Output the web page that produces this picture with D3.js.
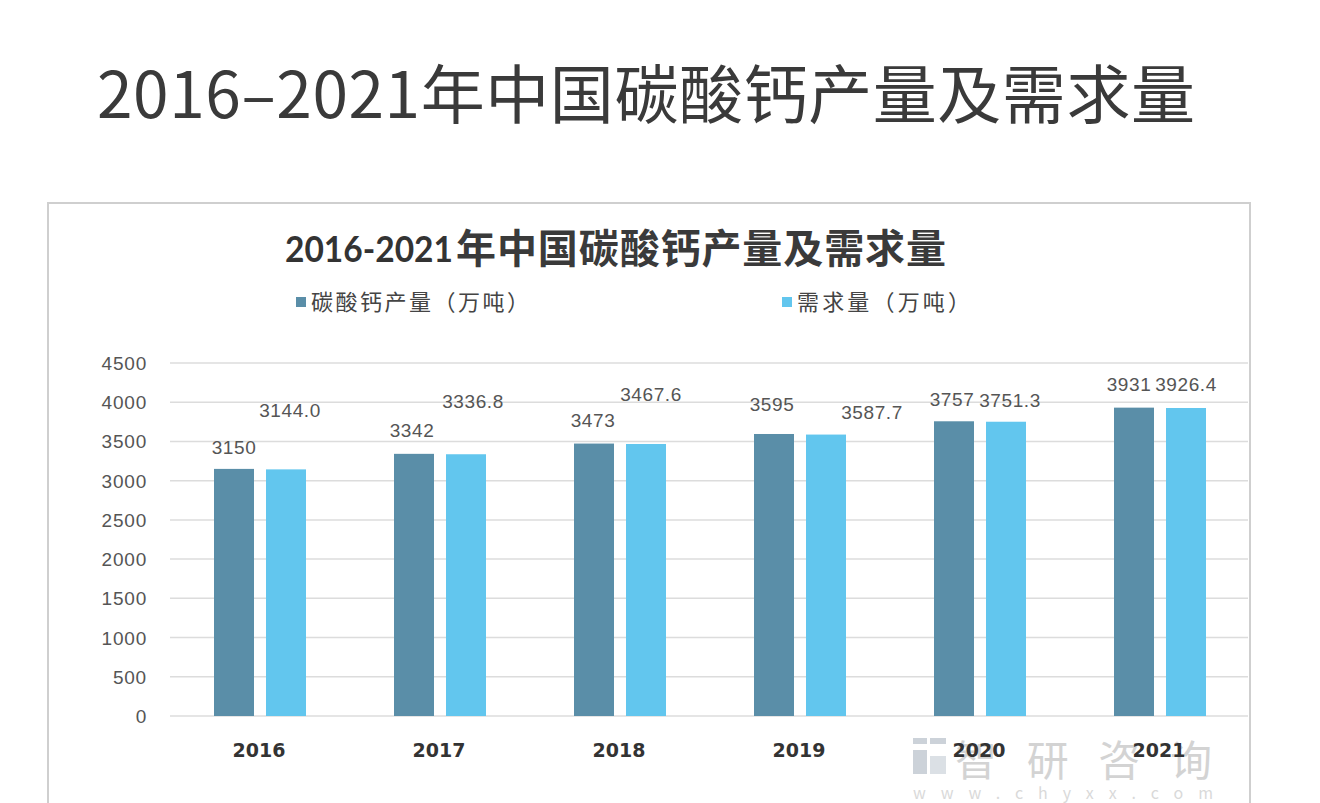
<!DOCTYPE html>
<html><head><meta charset="utf-8">
<script src="https://cdn.jsdelivr.net/npm/d3@7/dist/d3.min.js"></script>
<style>body{margin:0;background:#fff;}svg{display:block;}</style>
</head><body>
<svg id="c" width="1320" height="803"></svg>
<script>
const years = ["2016","2017","2018","2019","2020","2021"];
const production = [3150,3342,3473,3595,3757,3931];
const demand = [3144.0,3336.8,3467.6,3587.7,3751.3,3926.4];
const yTicks = [0,500,1000,1500,2000,2500,3000,3500,4000,4500];
const seriesNames = ["碳酸钙产量（万吨）","需求量（万吨）"];
const pageTitle = "2016–2021年中国碳酸钙产量及需求量";
const chartTitleYears = "2016-2021";
const chartTitleText = "年中国碳酸钙产量及需求量";
// label offsets (layout only) relative to bar top centre
const prodLabelOff = [[0,-22],[-2,-24],[-1,-24],[-2,-30],[-2,-22],[-5,-24]];
const demLabelOff = [[4,-59],[7,-53],[5,-50],[46,-23],[4,-22],[0,-24]];

const colors = ["#5a8ea8","#62c6ee"];
const svg = d3.select("#c");
const font = "'Noto Sans CJK SC','Noto Sans',sans-serif";

// page title
svg.append("text").attr("x",97).attr("y",118).attr("font-family",font)
  .attr("font-size",64).attr("fill","#3a3a3a").attr("textLength",1098).attr("lengthAdjust","spacing")
  .text(pageTitle);

// chart frame
svg.append("path").attr("d","M48,820 V203 H1250 V820").attr("fill","none").attr("stroke","#cfcfcf").attr("stroke-width",2);

// chart title
svg.append("text").attr("x",285).attr("y",262).attr("font-family","Lato,'Liberation Sans',sans-serif").attr("font-weight","bold")
  .attr("font-size",36).attr("fill","#333").attr("textLength",168).attr("lengthAdjust","spacingAndGlyphs")
  .text(chartTitleYears);
svg.append("text").attr("x",456).attr("y",263).attr("font-family",font).attr("font-weight","bold")
  .attr("font-size",40).attr("fill","#3a3a3a").attr("textLength",490).attr("lengthAdjust","spacing")
  .text(chartTitleText);

// legend
const legX = [302,788], legTextW=[218,173];
seriesNames.forEach((n,i)=>{
  svg.append("rect").attr("x",legX[i]-6).attr("y",297).attr("width",10).attr("height",10).attr("fill",colors[i]);
  svg.append("text").attr("x",legX[i]+9).attr("y",310).attr("font-family",font).attr("font-size",22)
    .attr("fill","#444").attr("textLength",legTextW[i]).attr("lengthAdjust","spacing").text(n);
});

const x = d3.scaleBand().domain(years).range([170,1250]);
const y = d3.scaleLinear().domain([0,4500]).range([716,363]);
const barW = 40, gap = 12;

// gridlines
svg.append("g").selectAll("line").data(yTicks).join("line")
  .attr("x1",170).attr("x2",1248).attr("y1",d=>y(d)).attr("y2",d=>y(d))
  .attr("stroke","#dcdcdc").attr("stroke-width",1.5);

// y tick labels
svg.append("g").selectAll("text").data(yTicks).join("text")
  .attr("x",147).attr("y",d=>y(d)+7).attr("text-anchor","end")
  .attr("font-family","'Liberation Sans',sans-serif").attr("font-size",19).attr("letter-spacing",0.8)
  .attr("fill","#555").text(d=>d);

// watermark
const wm = svg.append("g").attr("opacity",0.5);
wm.append("rect").attr("x",913).attr("y",738).attr("width",14).attr("height",6).attr("fill","#9aa7b5");
wm.append("rect").attr("x",930).attr("y",738).attr("width",16).attr("height",6).attr("fill","#9aa7b5");
wm.append("rect").attr("x",913).attr("y",750).attr("width",14).attr("height",24).attr("fill","#9aa7b5");
wm.append("rect").attr("x",930).attr("y",756).attr("width",16).attr("height",18).attr("fill","#b9c2cc");
wm.append("text").attr("x",955).attr("y",776).attr("font-family",font).attr("font-size",42)
  .attr("fill","#a9a9a9").attr("textLength",257).attr("lengthAdjust","spacing").text("智研咨询");
wm.append("text").attr("x",913).attr("y",799).attr("font-family",font).attr("font-size",16)
  .attr("fill","#b5b5b5").attr("textLength",300).attr("lengthAdjust","spacing").text("www.chyxx.com");

// bars
const groupW = barW*2+gap;
const bx = (yr,i)=> x(yr)+x.bandwidth()/2 - groupW/2 + i*(barW+gap);
[production,demand].forEach((vals,si)=>{
  svg.append("g").selectAll("rect").data(vals).join("rect")
    .attr("x",(d,i)=>bx(years[i],si)).attr("width",barW)
    .attr("y",d=>y(d)).attr("height",d=>y(0)-y(d)).attr("fill",colors[si]);
});

// data labels
const lblFont = "'Liberation Sans',sans-serif";
production.forEach((d,i)=>{
  svg.append("text").attr("x",bx(years[i],0)+barW/2+prodLabelOff[i][0]).attr("y",y(d)+prodLabelOff[i][1]+7)
    .attr("text-anchor","middle").attr("font-family",lblFont).attr("font-size",19).attr("letter-spacing",0.6)
    .attr("fill","#555").text(d);
});
demand.forEach((d,i)=>{
  svg.append("text").attr("x",bx(years[i],1)+barW/2+demLabelOff[i][0]).attr("y",y(d)+demLabelOff[i][1]+7)
    .attr("text-anchor","middle").attr("font-family",lblFont).attr("font-size",19).attr("letter-spacing",0.6)
    .attr("fill","#555").text(d.toFixed(1));
});

// x labels
svg.append("g").selectAll("text").data(years).join("text")
  .attr("x",d=>x(d)+x.bandwidth()/2-1).attr("y",757).attr("text-anchor","middle")
  .attr("font-family","'DejaVu Sans',sans-serif").attr("font-weight","bold").attr("font-size",19)
  .attr("fill","#333").text(d=>d);
</script>
</body></html>
